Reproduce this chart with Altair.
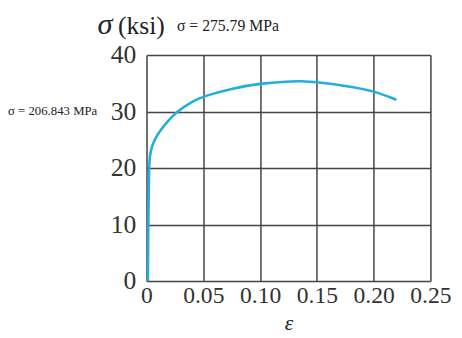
import altair as alt
import pandas as pd

strain = [0.0012, 0.0016, 0.0022, 0.0028, 0.0037, 0.0066, 0.0118, 0.0196, 0.0268,
          0.040, 0.050, 0.075, 0.100, 0.125, 0.136, 0.150, 0.175, 0.200, 0.220]
stress = [0, 10, 20, 21.8, 23.1, 24.9, 26.6, 28.5, 30.0,
          31.8, 32.7, 34.1, 35.0, 35.35, 35.4, 35.2, 34.6, 33.7, 32.1]
x_ticks = [0, 0.05, 0.10, 0.15, 0.20, 0.25]
y_ticks = [0, 10, 20, 30, 40]
annotations = ["σ", "(ksi)", "σ = 275.79 MPa", "σ = 206.843 MPa"]

df = pd.DataFrame({"strain": strain, "stress": stress})
FONT = "Liberation Serif"

curve = alt.Chart(df).mark_line(color="#22aee0", strokeWidth=2.6, interpolate="basis").encode(
    x=alt.X("strain:Q",
            scale=alt.Scale(domain=[0, 0.25], nice=False, zero=False),
            axis=alt.Axis(values=x_ticks, title="ε", titleFont=FONT, titleFontStyle="italic",
                          titleFontWeight="normal", titleFontSize=22, titleColor="#222",
                          titlePadding=5,
                          labelExpr="datum.value == 0 ? '0' : format(datum.value, '.2f')",
                          labelFont=FONT, labelFontSize=24, labelColor="#333",
                          labelPadding=3, labelOverlap=False, labelFlush=False,
                          ticks=False, domain=False,
                          grid=True, gridColor="#444", gridWidth=1.5, gridOpacity=1)),
    y=alt.Y("stress:Q",
            scale=alt.Scale(domain=[0, 40], nice=False),
            axis=alt.Axis(values=y_ticks, title=None,
                          labelFont=FONT, labelFontSize=26, labelColor="#333",
                          labelPadding=11, labelOverlap=False, labelFlush=False,
                          ticks=False, domain=False,
                          grid=True, gridColor="#444", gridWidth=1.5, gridOpacity=1)),
)

def label(txt, size, x, y, style="normal", weight="normal", baseline="middle"):
    return alt.Chart(pd.DataFrame({"t": [txt]})).mark_text(
        font=FONT, fontSize=size, fontStyle=style, fontWeight=weight,
        align="left", baseline=baseline, color="#222"
    ).encode(text="t:N", x=alt.value(x), y=alt.value(y))

t0 = label(annotations[0], 31, -50, -21, style="italic", baseline="alphabetic")
t1 = label(annotations[1], 26, -29, -21, baseline="alphabetic")
t2 = label(annotations[2], 16, 31, -30)
t3 = label(annotations[3], 13, -141, 57)

chart = alt.layer(curve, t0, t1, t2, t3).properties(
    width=289, height=230,
    autosize=alt.AutoSizeParams(type="none"),
    padding={"left": 141, "top": 45, "right": 24, "bottom": 55},
).configure_view(stroke=None).configure(background="white")

chart.save("out.html", embed_options={"renderer": "svg", "actions": False})
